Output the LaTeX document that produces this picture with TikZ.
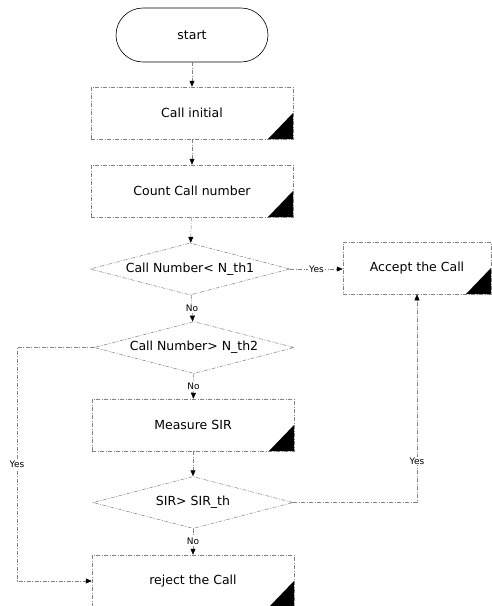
\documentclass[tikz,border=0pt]{standalone}
\usepackage{fontspec}
\setmainfont{DejaVu Sans}
\usepackage{tikz}
\usetikzlibrary{arrows.meta,shapes.geometric}
\definecolor{lineaGris}{gray}{0.5}

\begin{document}
\begin{tikzpicture}[
        x=1pt, y=-1pt,
        faint/.style={draw=lineaGris, line width=0.5pt, dash pattern=on 4pt off 1.5pt on 1pt off 1.5pt},
        term/.style={draw, line width=0.6pt, rounded corners=27pt, minimum width=152pt, minimum height=54pt, font=\fontsize{12.5}{15}\selectfont},
        proc/.style={faint, minimum width=202pt, minimum height=52pt, font=\fontsize{12.5}{15}\selectfont,
            path picture={\fill[black] (path picture bounding box.south east) -- ++(0pt,26pt) -- ++(-25pt,-26pt) -- cycle;}},
        dec/.style={faint, diamond, aspect=3.8, inner sep=0pt, minimum width=200pt, minimum height=52pt, font=\fontsize{12.5}{15}\selectfont},
        arr/.style={faint, -{Triangle[length=6pt, width=5pt, color=black]}},
        lbl/.style={font=\fontsize{9}{10}\selectfont, fill=white, inner sep=1pt}
    ]
        \useasboundingbox (0,0) rectangle (491,606);

        % Main column
        \node[term] (start) at (192, 35) {start};
        \node[proc] (init) at (192, 113) {Call initial};
        \node[proc] (count) at (192, 191) {Count Call number};
        \node[dec] (d1) at (190, 269) {Call Number< N\_th1};
        \node[dec] (d2) at (194, 347.5) {Call Number> N\_th2};
        \node[proc] (measure) at (193, 425) {Measure SIR};
        \node[dec] (sir) at (193, 502.5) {SIR> SIR\_th};
        \node[proc] (reject) at (193, 581) {reject the Call};

        % Accept branch
        \node[proc, minimum width=148pt] (accept) at (417, 268) {Accept the Call};

        % Downward flow
        \draw[arr] (start) -- (init);
        \draw[arr] (init) -- (count);
        \draw[arr] (count) -- (d1);
        \draw[arr] (d1) -- node[lbl] {No} (d2);
        \draw[arr] (d2) -- node[lbl] {No} (measure);
        \draw[arr] (measure) -- (sir);
        \draw[arr] (sir) -- node[lbl] {No} (reject);

        % Yes branches
        \draw[arr] (d1.east) -- node[lbl] {Yes} (accept.west |- d1.east);
        \coordinate (leftRail) at (17, 347.5);
        \draw[arr] (d2.west) -- (leftRail) |- node[lbl, pos=0.25] {Yes} (reject.west);
        \draw[arr] (sir.east) -| node[lbl, pos=0.6] {Yes} (accept.south);
    \end{tikzpicture}
\end{document}
